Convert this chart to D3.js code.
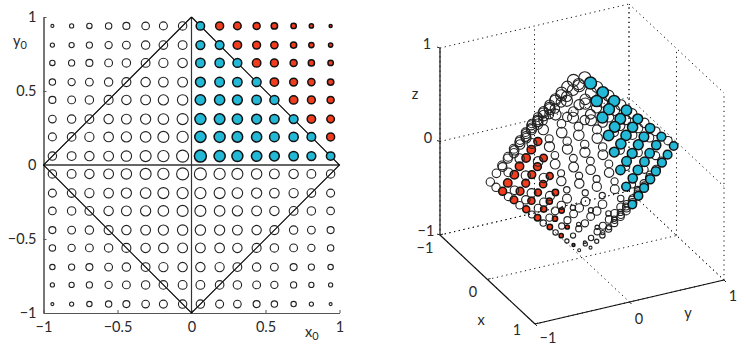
<!DOCTYPE html>
<html>
  <head>
    <title>Grid and folded surface</title>
    <meta charset="utf-8">
    <script src="https://d3js.org/d3.v7.min.js"></script>
    <style>
      body { margin: 0; background: #fff; }
      text { font-family: Lato, sans-serif; font-size: 14.5px; fill: #2a2a2a; }
      .domain, .tick line { stroke: #555; }
    </style>
  </head>
  <body>
    <div id="vis"></div>
    <script>

      // grid of starting points, same values on both axes
      var gridValues = [-0.94,-0.81,-0.69,-0.56,-0.44,-0.31,-0.19,-0.06,0.06,0.19,0.31,0.44,0.56,0.69,0.81,0.94];
      var planeTicks = [-1,-0.5,0,0.5,1];
      var cubeTicks = [-1,0,1];

      // marker radius, by distance from the centre (same in all four quadrants)
      var radii = [
        [6.0,5.6,5.5,5.2,4.9,4.7,4.4,4.2],
        [5.6,5.5,5.3,5.1,4.8,4.6,4.3,4.0],
        [5.5,5.3,5.1,4.9,4.7,4.4,4.2,3.8],
        [5.2,5.1,4.9,4.7,4.5,4.2,3.9,3.5],
        [4.9,4.8,4.7,4.5,4.2,3.9,3.6,3.2],
        [4.7,4.6,4.4,4.2,3.9,3.5,3.1,2.7],
        [4.4,4.3,4.2,3.9,3.6,3.1,2.6,2.1],
        [4.2,4.0,3.8,3.5,3.2,2.7,2.1,1.5]
      ];

      // 3d positions, rows follow y0 and columns follow x0
      var cloudX = [
        [.06,.06,.06,.06,.06,.06,.06,-.94,-.94,.06,.06,.06,.06,.06,.06,.06],
        [.19,.19,.19,.19,.19,.19,-.81,-.81,-.81,-.81,.19,.19,.19,.19,.19,.19],
        [.31,.31,.31,.31,.31,-.69,-.69,-.69,-.69,-.69,-.69,.31,.31,.31,.31,.31],
        [.44,.44,.44,.44,-.56,-.56,-.56,-.56,-.56,-.56,-.56,-.56,.44,.44,.44,.44],
        [.56,.56,.56,-.44,-.44,-.44,-.44,-.44,-.44,-.44,-.44,-.44,-.44,.56,.56,.56],
        [.69,.69,-.31,-.31,-.31,-.31,-.31,-.31,-.31,-.31,-.31,-.31,-.31,-.31,.69,.69],
        [.81,-.19,-.19,-.19,-.19,-.19,-.19,-.19,-.19,-.19,-.19,-.19,-.19,-.19,-.19,.81],
        [-.06,-.06,-.06,-.06,-.06,-.06,-.06,-.06,-.06,-.06,-.06,-.06,-.06,-.06,-.06,-.06],
        [.06,.06,.06,.06,.06,.06,.06,.06,.06,.06,.06,.06,.06,.06,.06,.06],
        [-.81,.19,.19,.19,.19,.19,.19,.19,.19,.19,.19,.19,.19,.19,.19,-.81],
        [-.69,-.69,.31,.31,.31,.31,.31,.31,.31,.31,.31,.31,.31,.31,-.69,-.69],
        [-.56,-.56,-.56,.44,.44,.44,.44,.44,.44,.44,.44,.44,.44,-.56,-.56,-.56],
        [-.44,-.44,-.44,-.44,.56,.56,.56,.56,.56,.56,.56,.56,-.44,-.44,-.44,-.44],
        [-.31,-.31,-.31,-.31,-.31,.69,.69,.69,.69,.69,.69,-.31,-.31,-.31,-.31,-.31],
        [-.19,-.19,-.19,-.19,-.19,-.19,.81,.81,.81,.81,-.19,-.19,-.19,-.19,-.19,-.19],
        [-.06,-.06,-.06,-.06,-.06,-.06,-.06,.94,.94,-.06,-.06,-.06,-.06,-.06,-.06,-.06]
      ];
      var cloudY = [
        [.06,.19,.31,.44,.56,.69,.81,-.06,.06,-.81,-.69,-.56,-.44,-.31,-.19,-.06],
        [.06,.19,.31,.44,.56,.69,-.19,-.06,.06,.19,-.69,-.56,-.44,-.31,-.19,-.06],
        [.06,.19,.31,.44,.56,-.31,-.19,-.06,.06,.19,.31,-.56,-.44,-.31,-.19,-.06],
        [.06,.19,.31,.44,-.44,-.31,-.19,-.06,.06,.19,.31,.44,-.44,-.31,-.19,-.06],
        [.06,.19,.31,-.56,-.44,-.31,-.19,-.06,.06,.19,.31,.44,.56,-.31,-.19,-.06],
        [.06,.19,-.69,-.56,-.44,-.31,-.19,-.06,.06,.19,.31,.44,.56,.69,-.19,-.06],
        [.06,-.81,-.69,-.56,-.44,-.31,-.19,-.06,.06,.19,.31,.44,.56,.69,.81,-.06],
        [-.94,-.81,-.69,-.56,-.44,-.31,-.19,-.06,.06,.19,.31,.44,.56,.69,.81,.94],
        [-.94,-.81,-.69,-.56,-.44,-.31,-.19,-.06,.06,.19,.31,.44,.56,.69,.81,.94],
        [.06,-.81,-.69,-.56,-.44,-.31,-.19,-.06,.06,.19,.31,.44,.56,.69,.81,-.06],
        [.06,.19,-.69,-.56,-.44,-.31,-.19,-.06,.06,.19,.31,.44,.56,.69,-.19,-.06],
        [.06,.19,.31,-.56,-.44,-.31,-.19,-.06,.06,.19,.31,.44,.56,-.31,-.19,-.06],
        [.06,.19,.31,.44,-.44,-.31,-.19,-.06,.06,.19,.31,.44,-.44,-.31,-.19,-.06],
        [.06,.19,.31,.44,.56,-.31,-.19,-.06,.06,.19,.31,-.56,-.44,-.31,-.19,-.06],
        [.06,.19,.31,.44,.56,.69,-.19,-.06,.06,.19,-.69,-.56,-.44,-.31,-.19,-.06],
        [.06,.19,.31,.44,.56,.69,.81,-.06,.06,-.81,-.69,-.56,-.44,-.31,-.19,-.06]
      ];
      var cloudZ = [
        [-.88,-.75,-.63,-.5,-.38,-.25,-.13,0,0,-.13,-.25,-.38,-.5,-.63,-.75,-.88],
        [-.75,-.63,-.5,-.38,-.25,-.13,0,.13,.13,0,-.13,-.25,-.38,-.5,-.63,-.75],
        [-.63,-.5,-.38,-.25,-.13,0,.13,.25,.25,.13,0,-.13,-.25,-.38,-.5,-.63],
        [-.5,-.38,-.25,-.13,0,.13,.25,.38,.38,.25,.13,0,-.13,-.25,-.38,-.5],
        [-.38,-.25,-.13,0,.13,.25,.38,.5,.5,.38,.25,.13,0,-.13,-.25,-.38],
        [-.25,-.13,0,.13,.25,.38,.5,.63,.63,.5,.38,.25,.13,0,-.13,-.25],
        [-.13,0,.13,.25,.38,.5,.63,.75,.75,.63,.5,.38,.25,.13,0,-.13],
        [0,.13,.25,.38,.5,.63,.75,.88,.88,.75,.63,.5,.38,.25,.13,0],
        [0,.13,.25,.38,.5,.63,.75,.88,.88,.75,.63,.5,.38,.25,.13,0],
        [-.13,0,.13,.25,.38,.5,.63,.75,.75,.63,.5,.38,.25,.13,0,-.13],
        [-.25,-.13,0,.13,.25,.38,.5,.63,.63,.5,.38,.25,.13,0,-.13,-.25],
        [-.38,-.25,-.13,0,.13,.25,.38,.5,.5,.38,.25,.13,0,-.13,-.25,-.38],
        [-.5,-.38,-.25,-.13,0,.13,.25,.38,.38,.25,.13,0,-.13,-.25,-.38,-.5],
        [-.63,-.5,-.38,-.25,-.13,0,.13,.25,.25,.13,0,-.13,-.25,-.38,-.5,-.63],
        [-.75,-.63,-.5,-.38,-.25,-.13,0,.13,.13,0,-.13,-.25,-.38,-.5,-.63,-.75],
        [-.88,-.75,-.63,-.5,-.38,-.25,-.13,0,0,-.13,-.25,-.38,-.5,-.63,-.75,-.88]
      ];

      var diamondX = [0,1,0,-1,0];
      var diamondY = [1,0,-1,0,1];

      var blue = "#22b8d6";
      var red = "#f23c1e";

      var svg = d3.select("#vis").append("svg")
                  .attr("width", 747)
                  .attr("height", 354);

      // one record per grid point, shared by the two panels
      var points = [];
      gridValues.forEach(function(y0, r){
        gridValues.forEach(function(x0, c){
          var i = c >= 8 ? c-8 : 7-c;
          var j = r >= 8 ? r-8 : 7-r;
          var fill = "none";
          if(x0 > 0 && y0 > 0){
            fill = cloudZ[r][c] >= 0 ? blue : red;
          }
          points.push({x0: x0, y0: y0, x: cloudX[r][c], y: cloudY[r][c], z: cloudZ[r][c], r: radii[j][i], fill: fill});
        });
      });

      var drawMarks = function(group, data, cx, cy){
        group.selectAll("circle")
             .data(data)
             .enter().append("circle")
             .attr("cx", cx)
             .attr("cy", cy)
             .attr("r", function(d){ return d.r; })
             .attr("fill", function(d){ return d.fill; })
             .attr("stroke", function(d){ return d.fill == "none" ? "#222" : "#111"; })
             .attr("stroke-width", function(d){ return d.fill == "none" ? 1.1 : 1.5; });
      };

      var minus = function(v){ return String(v).replace("-", "\u2212"); };

      // left panel
      var planeX = d3.scaleLinear().domain([-1,1]).range([43.5,339.5]);
      var planeY = d3.scaleLinear().domain([-1,1]).range([313,17]);
      var left = svg.append("g");

      left.append("g")
          .attr("transform", "translate(43.5,0)")
          .attr("class", "axis y")
          .call(d3.axisLeft(planeY).tickValues(planeTicks).tickSize(-3).tickSizeOuter(0).tickPadding(7).tickFormat(minus))
          .select(".domain").attr("stroke-width", 1.6);
      left.append("g")
          .attr("transform", "translate(0,313)")
          .attr("class", "axis x")
          .call(d3.axisBottom(planeX).tickValues(planeTicks).tickSize(-3).tickSizeOuter(0).tickPadding(9).tickFormat(minus));
      left.selectAll(".tick text").style("font-size", "14.5px").style("font-family", "Lato, sans-serif");

      left.append("line")
          .attr("x1", planeX(-1)).attr("x2", planeX(1))
          .attr("y1", planeY(0)).attr("y2", planeY(0))
          .attr("stroke", "#666").attr("stroke-width", 2);
      left.append("line")
          .attr("x1", planeX(0)).attr("x2", planeX(0))
          .attr("y1", planeY(-1)).attr("y2", planeY(1))
          .attr("stroke", "#333").attr("stroke-width", 1.2);
      left.append("path")
          .attr("d", d3.line().x(function(d, i){ return planeX(d); }).y(function(d, i){ return planeY(diamondY[i]); })(diamondX))
          .attr("fill", "none")
          .attr("stroke", "#000")
          .attr("stroke-width", 1.1);

      drawMarks(left.append("g"), points.filter(function(d){ return d.fill == "none"; }).concat(points.filter(function(d){ return d.fill != "none"; })),
        function(d){ return planeX(d.x0); }, function(d){ return planeY(d.y0); });

      var yLabel = left.append("text").attr("x", 13).attr("y", 46).text("y");
      yLabel.append("tspan").attr("dy", 3).style("font-size", "11px").text("0");
      var xLabel = left.append("text").attr("x", 305).attr("y", 337).text("x");
      xLabel.append("tspan").attr("dy", 3).style("font-size", "11px").text("0");

      // right panel, the cube is drawn from its three edge directions
      var xToH = d3.scaleLinear().domain([-1,1]).range([0,95]);
      var xToV = d3.scaleLinear().domain([-1,1]).range([0,89]);
      var yToH = d3.scaleLinear().domain([-1,1]).range([0,189]);
      var yToV = d3.scaleLinear().domain([-1,1]).range([0,-44]);
      var zToV = d3.scaleLinear().domain([-1,1]).range([0,-187]);
      var projH = function(x, y){ return 440 + xToH(x) + yToH(y); };
      var projV = function(x, y, z){ return 235 + xToV(x) + yToV(y) + zToV(z); };

      var right = svg.append("g");
      var seg = function(a, b, dotted){
        var l = right.append("line")
             .attr("x1", projH(a[0],a[1])).attr("y1", projV(a[0],a[1],a[2]))
             .attr("x2", projH(b[0],b[1])).attr("y2", projV(b[0],b[1],b[2]))
             .attr("stroke", "#111")
             .attr("stroke-width", dotted ? 1 : 1.2);
        if(dotted) l.attr("stroke-dasharray", "1.2 3.6");
      };

      cubeTicks.forEach(function(t){
        // back wall x=-1
        seg([-1,t,-1],[-1,t,1],true);
        seg([-1,-1,t],[-1,1,t],true);
        // back wall y=1
        seg([t,1,-1],[t,1,1],true);
        seg([-1,1,t],[1,1,t],true);
        // floor
        seg([t,-1,-1],[t,1,-1],true);
        seg([-1,t,-1],[1,t,-1],true);
      });

      seg([-1,-1,-1],[-1,-1,1],false);
      seg([-1,-1,-1],[1,-1,-1],false);
      seg([1,-1,-1],[1,1,-1],false);

      cubeTicks.forEach(function(t){
        // short ticks along the three solid axes
        right.append("line").attr("x1", projH(-1,-1)).attr("x2", projH(-1,-1)-3)
             .attr("y1", projV(-1,-1,t)).attr("y2", projV(-1,-1,t)-1).attr("stroke", "#222");
        right.append("line").attr("x1", projH(t,-1)).attr("x2", projH(t,-1)+3)
             .attr("y1", projV(t,-1,-1)).attr("y2", projV(t,-1,-1)-1).attr("stroke", "#222");
        right.append("line").attr("x1", projH(1,t)).attr("x2", projH(1,t)+2)
             .attr("y1", projV(1,t,-1)).attr("y2", projV(1,t,-1)+2).attr("stroke", "#222");
      });

      // nearest to the viewer last
      var sorted = points.slice().sort(function(a, b){
        return (2*a.x - a.y + 0.71*a.z) - (2*b.x - b.y + 0.71*b.z);
      });
      drawMarks(right.append("g"), sorted,
        function(d){ return projH(d.x, d.y); }, function(d){ return projV(d.x, d.y, d.z); });

      var cubeLabels = [
        ["1",427,49],["0",428,143],["\u22121",426,236],["z",415,99],
        ["\u22121",425,253],["0",473,297],["1",517,335],["x",481,325],
        ["\u22121",548,343],["0",639,324],["1",733,301],["y",688,318]
      ];
      right.selectAll("text.lab")
           .data(cubeLabels)
           .enter().append("text")
           .attr("class", "lab")
           .attr("text-anchor", "middle")
           .attr("x", function(d){ return d[1]; })
           .attr("y", function(d){ return d[2]; })
           .text(function(d){ return d[0]; });

    </script>
  </body>
</html>
